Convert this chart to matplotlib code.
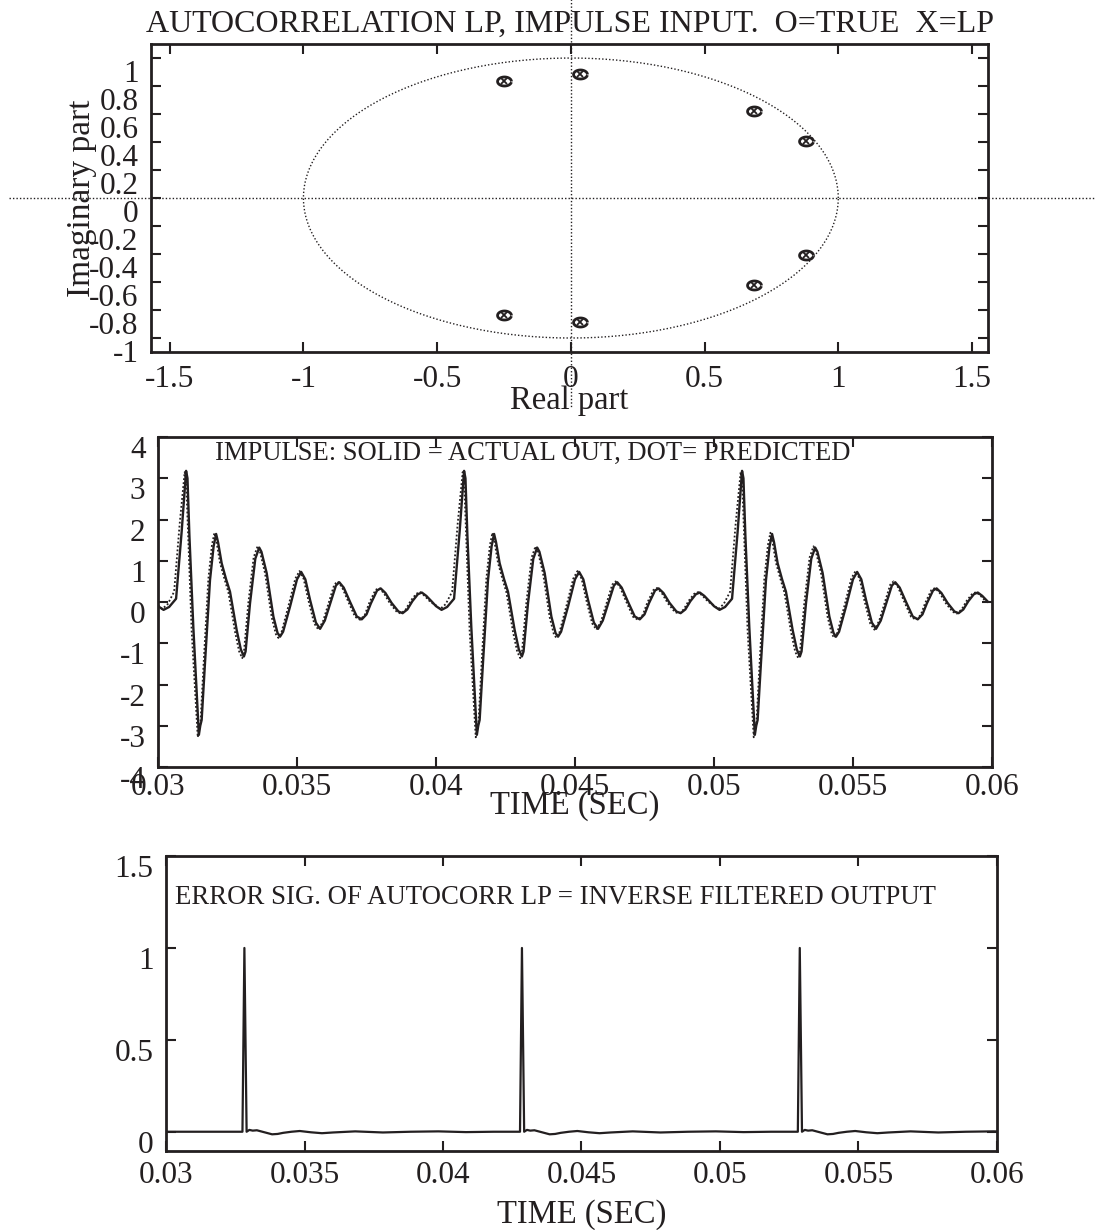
import numpy as np
import matplotlib
matplotlib.use("Agg")
import matplotlib.pyplot as plt
import matplotlib.transforms as mtransforms
from matplotlib.ticker import FuncFormatter

plt.rcParams['font.family'] = ['Liberation Serif', 'DejaVu Serif']
plt.rcParams['axes.unicode_minus'] = False
INK = '#231f20'

# poles (true and LP estimate coincide)
pole_re = [-0.25, 0.035, 0.685, 0.88, 0.88, 0.685, 0.035, -0.25]
pole_im = [0.835, 0.885, 0.62, 0.41, -0.41, -0.62, -0.885, -0.835]

# impulse response, one period (offset from each impulse)
period_starts = [0.030, 0.040, 0.050]
act_off = [0.00000, 0.00020, 0.00040, 0.00065, 0.00085, 0.00101, 0.00106, 0.00113, 0.00127,
           0.00147, 0.00152, 0.00157, 0.00169, 0.00187, 0.00200, 0.00209, 0.00216, 0.00229,
           0.00245, 0.00259, 0.00272, 0.00283, 0.00298, 0.00309, 0.00315, 0.00331, 0.00350,
           0.00364, 0.00372, 0.00391, 0.00415, 0.00430, 0.00439, 0.00450, 0.00475, 0.00500,
           0.00515, 0.00530, 0.00547, 0.00568, 0.00583, 0.00600, 0.00619, 0.00640, 0.00652,
           0.00668, 0.00691, 0.00715, 0.00733, 0.00750, 0.00766, 0.00788, 0.00801, 0.00818,
           0.00840, 0.00865, 0.00880, 0.00897, 0.00915, 0.00935, 0.00949, 0.00965, 0.00985]
act_val = [-0.10, -0.19, -0.12, 0.08, 1.70, 3.18, 3.00, 1.60, -0.60,
           -3.22, -3.00, -2.86, -1.48, 0.53, 1.35, 1.65, 1.45, 0.94,
           0.55, 0.25, -0.25, -0.68, -1.15, -1.32, -1.20, -0.03, 1.05,
           1.32, 1.22, 0.70, -0.35, -0.75, -0.84, -0.72, -0.11, 0.55,
           0.73, 0.55, 0.05, -0.50, -0.65, -0.45, -0.05, 0.40, 0.48,
           0.35, 0.00, -0.35, -0.42, -0.30, -0.03, 0.28, 0.33, 0.22,
           -0.02, -0.23, -0.27, -0.18, 0.02, 0.19, 0.23, 0.15, 0.01]
pred_off = [0.00000, 0.00015, 0.00035, 0.00058, 0.00078, 0.00096, 0.00101, 0.00108, 0.00121,
            0.00143, 0.00148, 0.00153, 0.00164, 0.00181, 0.00194, 0.00203, 0.00210, 0.00223,
            0.00239, 0.00253, 0.00266, 0.00277, 0.00292, 0.00303, 0.00309, 0.00325, 0.00344,
            0.00358, 0.00366, 0.00385, 0.00409, 0.00424, 0.00433, 0.00444, 0.00469, 0.00494,
            0.00509, 0.00524, 0.00541, 0.00562, 0.00577, 0.00594, 0.00613, 0.00634, 0.00646,
            0.00662, 0.00685, 0.00709, 0.00727, 0.00744, 0.00760, 0.00782, 0.00795, 0.00812,
            0.00834, 0.00859, 0.00874, 0.00891, 0.00909, 0.00929, 0.00943, 0.00959, 0.00980]
pred_val = [-0.08, -0.17, -0.05, 0.25, 1.90, 3.15, 2.95, 1.70, -0.70,
            -3.28, -3.10, -2.90, -1.50, 0.55, 1.38, 1.68, 1.48, 0.95,
            0.56, 0.24, -0.27, -0.72, -1.20, -1.36, -1.22, -0.02, 1.08,
            1.35, 1.24, 0.70, -0.37, -0.78, -0.87, -0.74, -0.10, 0.57,
            0.75, 0.56, 0.04, -0.52, -0.67, -0.46, -0.04, 0.42, 0.50,
            0.36, 0.00, -0.36, -0.43, -0.31, -0.02, 0.29, 0.34, 0.22,
            -0.03, -0.24, -0.28, -0.18, 0.03, 0.20, 0.24, 0.15, 0.00]

# error signal: spikes plus small ripple after each one
spike_times = [0.03283, 0.04285, 0.05288]
err_off = [-0.00007, 0.0, 0.00008, 0.00018, 0.00030, 0.00045, 0.00060, 0.00080, 0.00100,
           0.00120, 0.00140, 0.00170, 0.00200, 0.00240, 0.00280, 0.00320, 0.00400, 0.00500,
           0.00600, 0.00700, 0.00800, 0.00900]
err_val = [0.0, 1.0, 0.0, 0.010, 0.006, 0.008, 0.002, -0.006, -0.014,
           -0.012, -0.006, 0.000, 0.004, -0.003, -0.008, -0.004, 0.002, -0.004,
           0.000, 0.002, -0.002, 0.000]

act_t = np.concatenate([s + np.array(act_off) for s in period_starts])
act_y = np.tile(act_val, len(period_starts))
pred_t = np.concatenate([s + np.array(pred_off) for s in period_starts])
pred_y = np.tile(pred_val, len(period_starts))
err_t = np.concatenate([[0.030]] + [s + np.array(err_off) for s in spike_times])
err_y = np.concatenate([[0.0]] + [err_val for s in spike_times])

fig = plt.figure(figsize=(10.95, 12.3), dpi=100)
fmt = FuncFormatter(lambda v, p: '%g' % (round(v, 4) + 0.0))


def style(ax, ypx, xpad=9):
    for s in ax.spines.values():
        s.set_linewidth(2.0)
        s.set_color(INK)
    ax.tick_params(direction='in', top=True, right=True, length=7, width=1.5,
                   labelsize=22.5, colors=INK, pad=9)
    ax.tick_params(axis='x', pad=xpad)
    ax.xaxis.set_major_formatter(fmt)
    ax.yaxis.set_major_formatter(fmt)
    off = mtransforms.ScaledTranslation(0, -ypx / 100, fig.dpi_scale_trans)
    for lab in ax.get_yticklabels():
        lab.set_transform(lab.get_transform() + off)


# --- pole plot
ax1 = fig.add_axes([0.1379, 0.7138, 0.7644, 0.2504])
th = np.linspace(0, 2 * np.pi, 400)
ax1.plot(np.cos(th), np.sin(th), color=INK, ls=(0, (1, 1.5)), lw=1.0)
ax1.plot([-2.1, 2.0], [0, 0], color=INK, ls=(0, (1, 1.5)), lw=1.0, clip_on=False)
ax1.plot([0, 0], [1.42, -1.5], color=INK, ls=(0, (1, 1.5)), lw=1.0, clip_on=False)
ell = list(zip(np.cos(th[::10]), 0.65 * np.sin(th[::10])))
ax1.plot(pole_re, pole_im, ls='none', marker=ell, ms=10, mfc='none', mec=INK, mew=2.0)
ax1.plot(pole_re, pole_im, ls='none', marker='x', ms=4, mec=INK, mew=1.3)
ax1.set_xlim(-1.57, 1.56)
ax1.set_ylim(-1.1, 1.1)
ax1.set_xticks([-1.5, -1, -0.5, 0, 0.5, 1, 1.5])
ax1.set_yticks(np.round(np.arange(-1, 1.01, 0.2), 1))
ax1.set_title('AUTOCORRELATION LP, IMPULSE INPUT.  O=TRUE  X=LP', fontsize=23, color=INK, pad=9)
ax1.set_xlabel('Real part', fontsize=23.5, color=INK, labelpad=-6)
ax1.set_ylabel('Imaginary part', fontsize=24, color=INK, labelpad=-6)
style(ax1, 13)

# --- impulse response
ax2 = fig.add_axes([0.1443, 0.3764, 0.7616, 0.2683])
ax2.plot(act_t, act_y, color=INK, lw=1.7)
ax2.plot(pred_t, pred_y, color=INK, lw=1.3, ls=(0, (1, 1.2)))
ax2.set_xlim(0.03, 0.06)
ax2.set_ylim(-4, 4)
ax2.set_xticks([0.03, 0.035, 0.04, 0.045, 0.05, 0.055, 0.06])
ax2.set_yticks(range(-4, 5))
ax2.set_xlabel('TIME (SEC)', fontsize=23.5, color=INK, labelpad=-8)
ax2.text(0.068, 0.951, 'IMPULSE: SOLID = ACTUAL OUT, DOT= PREDICTED', transform=ax2.transAxes,
         fontsize=19.2, color=INK, ha='left', va='center')
style(ax2, 10, xpad=4)

# --- error signal
ax3 = fig.add_axes([0.1516, 0.0642, 0.7589, 0.2398])
ax3.plot(err_t, err_y, color=INK, lw=1.6)
ax3.set_xlim(0.03, 0.06)
ax3.set_ylim(-0.105, 1.5)
ax3.set_xticks([0.03, 0.035, 0.04, 0.045, 0.05, 0.055, 0.06])
ax3.set_yticks([0, 0.5, 1, 1.5])
ax3.set_xlabel('TIME (SEC)', fontsize=23.5, color=INK, labelpad=7)
ax3.text(0.011, 0.861, 'ERROR SIG. OF AUTOCORR LP = INVERSE FILTERED OUTPUT', transform=ax3.transAxes,
         fontsize=19.3, color=INK, ha='left', va='center')
style(ax3, 10, xpad=7)

fig.savefig('out.png', dpi=100)
